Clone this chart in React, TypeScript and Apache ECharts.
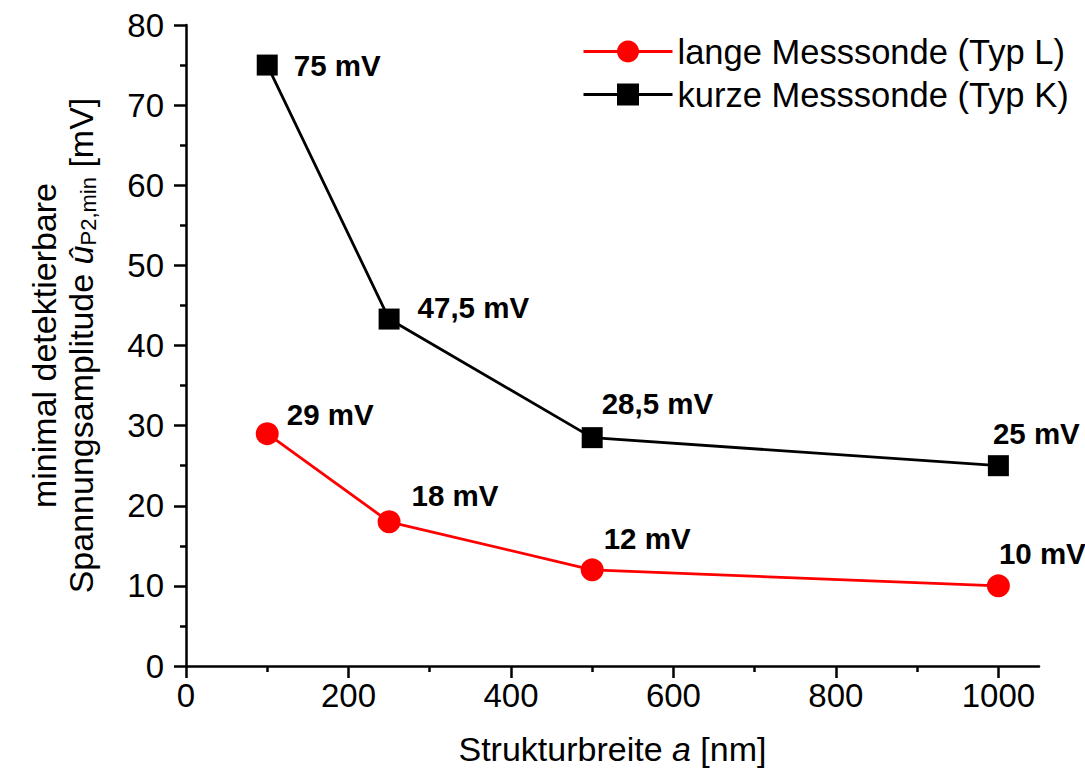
import React, { useEffect, useRef } from "react";
import * as echarts from "echarts";

const structureWidths = [100, 250, 500, 1000];
const typL = [29, 18, 12, 10];
const typK = [75, 43.3, 28.5, 25];
const labelsL = ["29 mV", "18 mV", "12 mV", "10 mV"];
const labelsK = ["75 mV", "47,5 mV", "28,5 mV", "25 mV"];
const xTickValues = [0, 200, 400, 600, 800, 1000];
const xMinorTickValues = [100, 300, 500, 700, 900];

const offsetsL = [[8, -19], [11, -26], [0, -31], [-11, -32]];
const offsetsK = [[16, 0], [18, -12], [-1, -34], [-16, -32]];

const FONT = "'Liberation Sans', Arial, Helvetica, sans-serif";

export default function App() {
  const ref = useRef<HTMLDivElement>(null);
  useEffect(() => {
    if (!ref.current) return;
    const chart = echarts.init(ref.current, null, { renderer: "svg" });
    const mk = (ys: number[], labels: string[], offs: number[][]) =>
      structureWidths.map((x, i) => ({
        value: [x, ys[i]],
        label: { formatter: labels[i], offset: offs[i] },
      }));
    const labelStyle = {
      show: true,
      position: "right",
      distance: 0,
      fontSize: 29.5,
      fontWeight: "bold",
      color: "#000",
      fontFamily: FONT,
    };
    chart.setOption({
      animation: false,
      textStyle: { fontFamily: FONT },
      grid: { left: 186, right: 46, top: 25, bottom: 104 },
      legend: {
        orient: "vertical",
        left: 577,
        top: 29,
        itemWidth: 89,
        itemHeight: 27.5,
        itemGap: 8,
        lineStyle: { width: 3 },
        textStyle: { fontSize: 34.5, color: "#000", fontFamily: FONT },
        data: ["lange Messsonde (Typ L)", "kurze Messsonde (Typ K)"],
      },
      xAxis: [
        {
          type: "value",
          min: 0,
          max: 1050,
          interval: 200,
          position: "bottom",
          splitLine: { show: false },
          axisLine: { show: true, lineStyle: { color: "#000", width: 2.5 } },
          axisTick: { show: true, length: 12, customValues: xTickValues, lineStyle: { color: "#000", width: 2.5 } },
          axisLabel: {
            customValues: xTickValues,
            formatter: (v: number) => String(v),
            fontSize: 33,
            color: "#000",
            margin: 13,
            fontFamily: FONT,
          },
          name: "Strukturbreite {i|a} [nm]",
          nameLocation: "middle",
          nameGap: 66,
          nameTextStyle: {
            fontSize: 34,
            color: "#000",
            fontFamily: FONT,
            rich: { i: { fontSize: 34, fontStyle: "italic", color: "#000", fontFamily: FONT } },
          },
        },
        {
          type: "value",
          min: 0,
          max: 1050,
          position: "bottom",
          splitLine: { show: false },
          axisLine: { show: false },
          axisTick: { show: true, length: 6, customValues: xMinorTickValues, lineStyle: { color: "#000", width: 2.5 } },
          axisLabel: { show: false },
        },
      ],
      yAxis: {
        type: "value",
        min: 0,
        max: 80,
        interval: 10,
        splitLine: { show: false },
        axisLine: { show: true, lineStyle: { color: "#000", width: 2.5 } },
        axisTick: { show: true, length: 12, lineStyle: { color: "#000", width: 2.5 } },
        minorTick: { show: true, splitNumber: 2, length: 6, lineStyle: { color: "#000", width: 2.5 } },
        axisLabel: { fontSize: 33, color: "#000", margin: 22, fontFamily: FONT },
        name: "minimal detektierbare\nSpannungsamplitude {i|û}{sub|P2,min} [mV]",
        nameLocation: "middle",
        nameRotate: 90,
        nameGap: 87,
        nameTextStyle: {
          fontSize: 34,
          lineHeight: 37,
          color: "#000",
          fontFamily: FONT,
          rich: {
            i: { fontSize: 34, lineHeight: 37, fontStyle: "italic", color: "#000", fontFamily: FONT },
            sub: { fontSize: 22, lineHeight: 20, verticalAlign: "bottom", color: "#000", fontFamily: FONT },
          },
        },
      },
      series: [
        {
          name: "lange Messsonde (Typ L)",
          type: "line",
          xAxisIndex: 0,
          data: mk(typL, labelsL, offsetsL),
          symbol: "circle",
          symbolSize: 23,
          lineStyle: { color: "#ff0000", width: 2.8 },
          itemStyle: { color: "#ff0000" },
          label: labelStyle,
        },
        {
          name: "kurze Messsonde (Typ K)",
          type: "line",
          xAxisIndex: 0,
          data: mk(typK, labelsK, offsetsK),
          symbol: "rect",
          symbolSize: 21,
          lineStyle: { color: "#000", width: 2.8 },
          itemStyle: { color: "#000" },
          label: labelStyle,
        },
      ],
    });
    return () => chart.dispose();
  }, []);
  return <div ref={ref} style={{ width: 1085, height: 771, position: "absolute", left: 0, top: 0 }} />;
}
